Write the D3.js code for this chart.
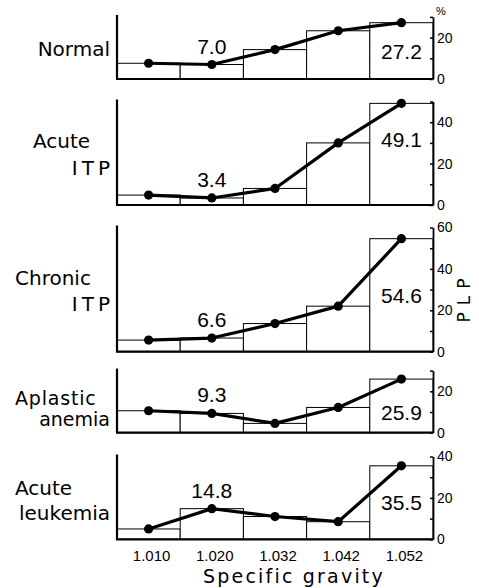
<!DOCTYPE html>
<html>
<head>
<meta charset="utf-8">
<script src="https://cdn.jsdelivr.net/npm/d3@7"></script>
<style>
body { margin: 0; background: #fff; }
</style>
</head>
<body>
<div id="chart"></div>
<script>
// data (PLP %, by specific gravity fraction)
var gravity = ["1.010", "1.020", "1.032", "1.042", "1.052"];
var groups = ["Normal", "Acute ITP", "Chronic ITP", "Aplastic anemia", "Acute leukemia"];
var normal = [7.6, 7.0, 14.2, 23.3, 27.2];
var acuteItp = [4.8, 3.4, 8.0, 30.0, 49.1];
var chronicItp = [5.6, 6.6, 13.6, 22.0, 54.6];
var aplastic = [10.6, 9.3, 4.5, 12.2, 25.9];
var leukemia = [5.0, 14.8, 11.0, 8.5, 35.5];
var axisMax = [30, 50, 60, 30, 40];

var series = [normal, acuteItp, chronicItp, aplastic, leukemia];

// layout
var width = 479, height = 588;
var left = 117, right = 433;
var zeroY = [79, 205, 351.7, 432.7, 539.3];
var pxPerUnit = 2.07;
// label lines: x, baseline y, anchor
var labelPos = [
  [[110, 56, "end"]],
  [[33, 148, "start"], [114, 175, "end"]],
  [[15, 285, "start"], [114, 311, "end"]],
  [[15, 405, "start"], [110, 426, "end"]],
  [[15, 495, "start"], [110, 520, "end"]]
];
var hiOffset = [8, -7, 8, 14, 7];

var svg = d3.select("#chart").append("svg")
  .attr("width", width)
  .attr("height", height)
  .style("background", "#fff");

var x = d3.scaleBand().domain(gravity).range([left, right]).padding(0);

for (var i = 0; i < series.length; i++) {
  var vals = series[i];
  var y0 = zeroY[i];
  var y = d3.scaleLinear().domain([0, axisMax[i]]).range([y0, y0 - axisMax[i] * pxPerUnit]);
  var g = svg.append("g");

  // histogram bars
  g.selectAll("rect")
    .data(vals)
    .enter().append("rect")
    .attr("x", function(d, j) { return x(gravity[j]); })
    .attr("y", function(d) { return y(d); })
    .attr("width", x.bandwidth())
    .attr("height", function(d) { return y0 - y(d); })
    .attr("fill", "#fff")
    .attr("stroke", "#000")
    .attr("stroke-width", 1);

  // right axis
  var ax = g.append("g")
    .attr("transform", "translate(" + right + ",0)")
    .call(d3.axisRight(y)
      .tickValues(d3.range(0, axisMax[i] + 1, 10))
      .tickSizeInner(-3)
      .tickSizeOuter(0)
      .tickPadding(4)
      .tickFormat(function(d) { return d % 20 == 0 ? d : ""; }));
  ax.select(".domain").attr("stroke", "#000").attr("stroke-width", 1.8);
  ax.selectAll(".tick line").attr("stroke", "#000").attr("stroke-width", 1.5);
  ax.selectAll(".tick text")
    .attr("fill", "#000")
    .style("font-family", "'Liberation Sans', Arial, sans-serif")
    .style("font-size", "14px");

  // left axis and baseline
  g.append("line")
    .attr("x1", left).attr("x2", left)
    .attr("y1", y0).attr("y2", y(axisMax[i]) - 2)
    .attr("stroke", "#000").attr("stroke-width", 2.2);
  g.append("line")
    .attr("x1", left - 1).attr("x2", right)
    .attr("y1", y0).attr("y2", y0)
    .attr("stroke", "#000").attr("stroke-width", 2.2);

  // connecting line + dots
  var line = d3.line()
    .x(function(d, j) { return x(gravity[j]) + x.bandwidth() / 2; })
    .y(function(d) { return y(d); });
  g.append("path")
    .datum(vals)
    .attr("d", line)
    .attr("fill", "none")
    .attr("stroke", "#000")
    .attr("stroke-width", 3.2)
    .attr("stroke-linejoin", "round");
  g.selectAll("circle")
    .data(vals)
    .enter().append("circle")
    .attr("cx", function(d, j) { return x(gravity[j]) + x.bandwidth() / 2; })
    .attr("cy", function(d) { return y(d); })
    .attr("r", 4.6)
    .attr("fill", "#000");

  // value labels for 1.020 and 1.052
  g.append("text")
    .attr("x", x(gravity[1]) + x.bandwidth() / 2)
    .attr("y", y(vals[1]) - 11)
    .attr("text-anchor", "middle")
    .style("font-family", "'Liberation Sans', Arial, sans-serif")
    .style("font-size", "21px")
    .text(d3.format(".1f")(vals[1]));
  g.append("text")
    .attr("x", x(gravity[4]) + x.bandwidth() / 2)
    .attr("y", (y(vals[4]) + y0) / 2 + hiOffset[i])
    .attr("text-anchor", "middle")
    .style("font-family", "'Liberation Sans', Arial, sans-serif")
    .style("font-size", "21px")
    .text(d3.format(".1f")(vals[4]));

  // group name on the left
  var words = groups[i].split(" ");
  if (groups[i] == "Normal") words = [groups[i]];
  for (var k = 0; k < words.length; k++) {
    var p = labelPos[i][k];
    svg.append("text")
      .attr("x", p[0])
      .attr("y", p[1])
      .attr("text-anchor", p[2])
      .style("font-family", "'DejaVu Sans', sans-serif")
      .style("font-size", i == 3 ? "19px" : "20px")
      .style("letter-spacing", words[k] == "ITP" ? "4px" : (i == 3 && k == 0 ? "0.8px" : "0px"))
      .text(words[k]);
  }
}

// % sign above the first right axis
svg.append("text")
  .attr("x", 436)
  .attr("y", 15)
  .style("font-family", "'Liberation Sans', Arial, sans-serif")
  .style("font-size", "11px")
  .text("%");

// PLP vertical title
svg.append("text")
  .attr("transform", "translate(470,297) rotate(-90)")
  .attr("text-anchor", "middle")
  .style("font-family", "'DejaVu Sans', sans-serif")
  .style("font-size", "17px")
  .style("letter-spacing", "7px")
  .text("PLP");

// x tick labels
svg.selectAll(".xlab")
  .data(gravity)
  .enter().append("text")
  .attr("class", "xlab")
  .attr("x", function(d) { return x(d) + x.bandwidth() / 2 + 3; })
  .attr("y", 561)
  .attr("text-anchor", "middle")
  .style("font-family", "'Liberation Sans', Arial, sans-serif")
  .style("font-size", "15px")
  .text(function(d) { return d; });

svg.append("text")
  .attr("x", 294)
  .attr("y", 583)
  .attr("text-anchor", "middle")
  .style("font-family", "'DejaVu Sans', sans-serif")
  .style("font-size", "19px")
  .style("letter-spacing", "2.2px")
  .text("Specific gravity");
</script>
</body>
</html>
